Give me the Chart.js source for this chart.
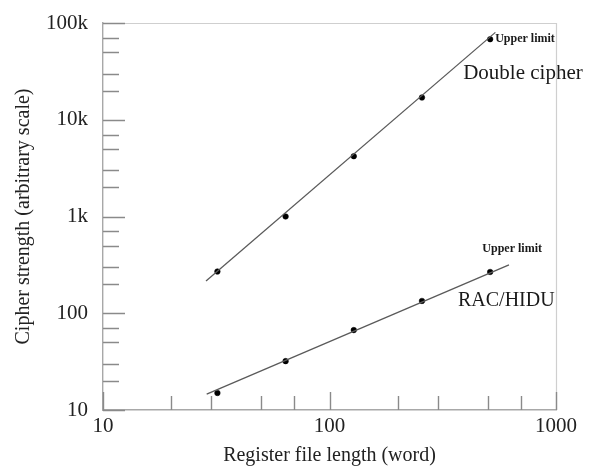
<!DOCTYPE html>
<html>
<head>
<meta charset="utf-8">
<script src="https://cdn.jsdelivr.net/npm/chart.js@4/dist/chart.umd.min.js"></script>
<style>
  html, body { margin: 0; padding: 0; background: #fff; }
  #wrap { width: 590px; height: 470px; }
</style>
</head>
<body>
<div id="wrap"><canvas id="myChart" width="590" height="470"></canvas></div>
<script>
// register file length (words) of the measured points
var registerLength = [32, 64, 128, 256, 512];
// cipher strength
var doubleCipher = [270, 1000, 4200, 17000, 68000];
var racHidu = [15, 32, 67, 134, 267];

// end points of the drawn fit lines
var doubleFitX = [28.5, 540];
var doubleFitY = [215, 80000];
var racFitX = [28.7, 620];
var racFitY = [14.6, 316];

// axis ticks
var xTickValues = [10, 100, 1000];
var xTickLabels = ['10', '100', '1000'];
var yTickValues = [10, 100, 1000, 10000, 100000];
var yTickLabels = ['10', '100', '1k', '10k', '100k'];
var minorSteps = [2, 3, 5, 7];

var serif = "'Liberation Serif', 'DejaVu Serif', serif";

var toPoints = function (xs, ys) {
  return xs.map(function (x, i) { return { x: x, y: ys[i] }; });
};

var minorsOf = function (majors) {
  var out = [];
  majors.slice(0, -1).forEach(function (m) {
    minorSteps.forEach(function (s) { out.push(m * s); });
  });
  return out;
};

// ticks drawn inward, plus the light frame on top and right
var frameTicks = {
  id: 'frameTicks',
  afterDraw: function (chart) {
    var ctx = chart.ctx, a = chart.chartArea;
    var xs = chart.scales.x, ys = chart.scales.y;
    ctx.save();
    ctx.lineWidth = 1.2;
    ctx.strokeStyle = '#cfcfcf';
    ctx.beginPath();
    ctx.moveTo(a.left, a.top + 0.5);
    ctx.lineTo(a.right + 0.5, a.top + 0.5);
    ctx.lineTo(a.right + 0.5, a.bottom);
    ctx.stroke();

    ctx.strokeStyle = '#8a8a8a';
    ctx.lineWidth = 1.4;
    ctx.beginPath();
    xTickValues.forEach(function (v) {
      var px = Math.round(xs.getPixelForValue(v)) + 0.5;
      ctx.moveTo(px, a.bottom); ctx.lineTo(px, a.bottom - 18);
    });
    minorsOf(xTickValues).forEach(function (v) {
      var px = Math.round(xs.getPixelForValue(v)) + 0.5;
      ctx.moveTo(px, a.bottom); ctx.lineTo(px, a.bottom - 14);
    });
    yTickValues.forEach(function (v) {
      var py = Math.round(ys.getPixelForValue(v)) + 0.5;
      ctx.moveTo(a.left, py); ctx.lineTo(a.left + 22, py);
    });
    minorsOf(yTickValues).forEach(function (v) {
      var py = Math.round(ys.getPixelForValue(v)) + 0.5;
      ctx.moveTo(a.left, py); ctx.lineTo(a.left + 16, py);
    });
    ctx.stroke();
    ctx.restore();
  }
};

// curve names and "Upper limit" notes, placed next to the last points
var curveNotes = {
  id: 'curveNotes',
  afterDatasetsDraw: function (chart) {
    var ctx = chart.ctx;
    var xs = chart.scales.x, ys = chart.scales.y;
    var last = registerLength.length - 1;
    var dcX = xs.getPixelForValue(registerLength[last]);
    var dcY = ys.getPixelForValue(doubleCipher[last]);
    var rX = xs.getPixelForValue(registerLength[last]);
    var rY = ys.getPixelForValue(racHidu[last]);
    var rMidX = xs.getPixelForValue(registerLength[last - 1]);
    var rMidY = ys.getPixelForValue(racHidu[last - 1]);

    ctx.save();
    ctx.fillStyle = '#1a1a1a';
    ctx.textBaseline = 'middle';

    ctx.font = 'bold 12px ' + serif;
    ctx.textAlign = 'left';
    ctx.fillText('Upper limit', dcX + 5, dcY);
    ctx.textAlign = 'center';
    ctx.fillText('Upper limit', rX + 22, rY - 23);

    ctx.font = '21px ' + serif;
    ctx.textAlign = 'left';
    ctx.fillText('Double cipher', dcX - 27, dcY + 34);
    ctx.font = '20px ' + serif;
    ctx.fillText('RAC/HIDU', rMidX + 36, rMidY);
    ctx.restore();
  }
};

var canvas = document.getElementById('myChart');
new Chart(canvas, {
  type: 'scatter',
  data: {
    datasets: [
      {
        label: 'Double cipher fit',
        data: toPoints(doubleFitX, doubleFitY),
        showLine: true,
        borderColor: '#5a5a5a',
        borderWidth: 1.3,
        pointRadius: 0
      },
      {
        label: 'RAC/HIDU fit',
        data: toPoints(racFitX, racFitY),
        showLine: true,
        borderColor: '#5a5a5a',
        borderWidth: 1.3,
        pointRadius: 0
      },
      {
        label: 'Double cipher',
        data: toPoints(registerLength, doubleCipher),
        pointStyle: 'circle',
        pointRadius: 2.8,
        backgroundColor: '#000',
        borderColor: '#000',
        borderWidth: 0.5
      },
      {
        label: 'RAC/HIDU',
        data: toPoints(registerLength, racHidu),
        pointStyle: 'circle',
        pointRadius: 2.8,
        backgroundColor: '#000',
        borderColor: '#000',
        borderWidth: 0.5
      }
    ]
  },
  options: {
    responsive: false,
    animation: false,
    layout: { padding: { top: 23, right: 34, left: 0, bottom: 0 } },
    plugins: {
      legend: { display: false },
      tooltip: { enabled: false }
    },
    scales: {
      x: {
        type: 'logarithmic',
        min: 10,
        max: 1000,
        afterBuildTicks: function (scale) {
          scale.ticks = xTickValues.map(function (v) { return { value: v }; });
        },
        afterFit: function (scale) {
          scale.height = 60;
          scale.paddingLeft = 0;
          scale.paddingRight = 0;
        },
        grid: { display: false, drawTicks: false },
        border: { display: true, color: '#a8a8a8', width: 1.4 },
        ticks: {
          autoSkip: false,
          maxRotation: 0,
          padding: 4,
          color: '#222',
          font: { family: serif, size: 21 },
          callback: function (v) {
            var i = xTickValues.indexOf(v);
            return i < 0 ? '' : xTickLabels[i];
          }
        },
        title: {
          display: true,
          text: 'Register file length (word)',
          color: '#222',
          font: { family: serif, size: 20 },
          padding: { top: 0, bottom: 2 }
        }
      },
      y: {
        type: 'logarithmic',
        min: 10,
        max: 100000,
        afterBuildTicks: function (scale) {
          scale.ticks = yTickValues.map(function (v) { return { value: v }; });
        },
        afterFit: function (scale) {
          scale.width = 103;
          scale.paddingTop = 0;
          scale.paddingBottom = 0;
        },
        grid: { display: false, drawTicks: false },
        border: { display: true, color: '#a8a8a8', width: 1.4 },
        ticks: {
          autoSkip: false,
          padding: 15,
          color: '#222',
          font: { family: serif, size: 21 },
          callback: function (v) {
            var i = yTickValues.indexOf(v);
            return i < 0 ? '' : yTickLabels[i];
          }
        },
        title: {
          display: true,
          text: 'Cipher strength (arbitrary scale)',
          color: '#222',
          font: { family: serif, size: 20 },
          padding: { top: 12, bottom: 0 }
        }
      }
    }
  },
  plugins: [frameTicks, curveNotes]
});
</script>
</body>
</html>
